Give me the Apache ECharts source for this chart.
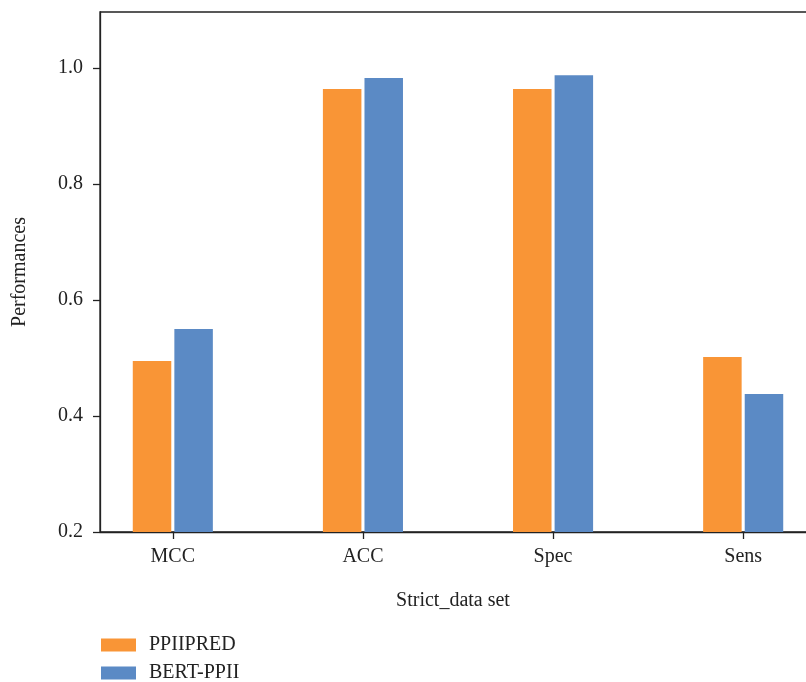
<!DOCTYPE html>
<html>
<head>
<meta charset="utf-8">
<script src="https://cdn.jsdelivr.net/npm/echarts@6/dist/echarts.min.js"></script>
<style>
  html, body { margin: 0; padding: 0; background: #fff; }
  #chart { width: 806px; height: 682px; }
</style>
</head>
<body>
<div id="chart"></div>
<script>
var categories = ['MCC', 'ACC', 'Spec', 'Sens'];
var seriesNames = ['PPIIPRED', 'BERT-PPII'];
var ppiipred = [0.495, 0.964, 0.964, 0.502];
var bertPpii = [0.550, 0.983, 0.988, 0.438];
var yTicks = [0.2, 0.4, 0.6, 0.8, 1.0];

var serif = '"Liberation Serif", "DejaVu Serif", serif';
var ink = '#222';

function toPoints(values) {
    return values.map(function (v, i) { return [i, v]; });
}

function legendRow(name, top) {
    return {
        orient: 'vertical',
        left: 101,
        top: top,
        padding: 0,
        itemWidth: 35,
        itemHeight: 13,
        icon: 'rect',
        textStyle: { fontFamily: serif, fontSize: 20, color: ink, padding: [0, 0, 0, 8] },
        data: [name]
    };
}

var chart = echarts.init(document.getElementById('chart'));

var option = {
    animation: false,
    grid: {
        left: 100,
        right: -10,
        top: 12,
        bottom: 150,
        outerBoundsMode: 'none',
        containLabel: false,
        show: true,
        borderColor: ink,
        borderWidth: 1.3
    },
    legend: [
        legendRow(seriesNames[0], 635),
        legendRow(seriesNames[1], 663)
    ],
    graphic: [
        {
            type: 'text',
            x: 453,
            y: 601,
            style: {
                text: 'Strict_data set',
                fontFamily: serif,
                fontSize: 20,
                fill: ink,
                textAlign: 'center',
                textVerticalAlign: 'middle'
            }
        }
    ],
    xAxis: {
        type: 'value',
        min: -0.383,
        max: 3.383,
        splitLine: { show: false },
        axisLine: { lineStyle: { color: ink, width: 1.3 } },
        axisTick: { customValues: [0, 1, 2, 3], length: 7, lineStyle: { color: ink, width: 1.3 } },
        axisLabel: {
            customValues: [0, 1, 2, 3],
            formatter: function (v) { return categories[Math.round(v)]; },
            fontFamily: serif,
            fontSize: 20,
            color: ink,
            margin: 15
        }
    },
    yAxis: {
        type: 'value',
        min: 0.2,
        max: 1.097,
        name: 'Performances',
        nameLocation: 'middle',
        nameGap: 70,
        nameTextStyle: { fontFamily: serif, fontSize: 20, color: ink },
        splitLine: { show: false },
        axisLine: { show: true, onZero: false, lineStyle: { color: ink, width: 1.3 } },
        axisTick: { show: true, customValues: yTicks, length: 7, lineStyle: { color: ink, width: 1.3 } },
        axisLabel: {
            customValues: yTicks,
            formatter: function (v) { return v.toFixed(1); },
            fontFamily: serif,
            fontSize: 20,
            color: ink,
            margin: 17
        }
    },
    series: [
        {
            name: seriesNames[0],
            type: 'bar',
            barWidth: 38.5,
            barGap: '8%',
            itemStyle: { color: '#F99536' },
            data: toPoints(ppiipred)
        },
        {
            name: seriesNames[1],
            type: 'bar',
            barWidth: 38.5,
            barGap: '8%',
            itemStyle: { color: '#5B8AC5' },
            data: toPoints(bertPpii)
        }
    ]
};

chart.setOption(option);
</script>
</body>
</html>
